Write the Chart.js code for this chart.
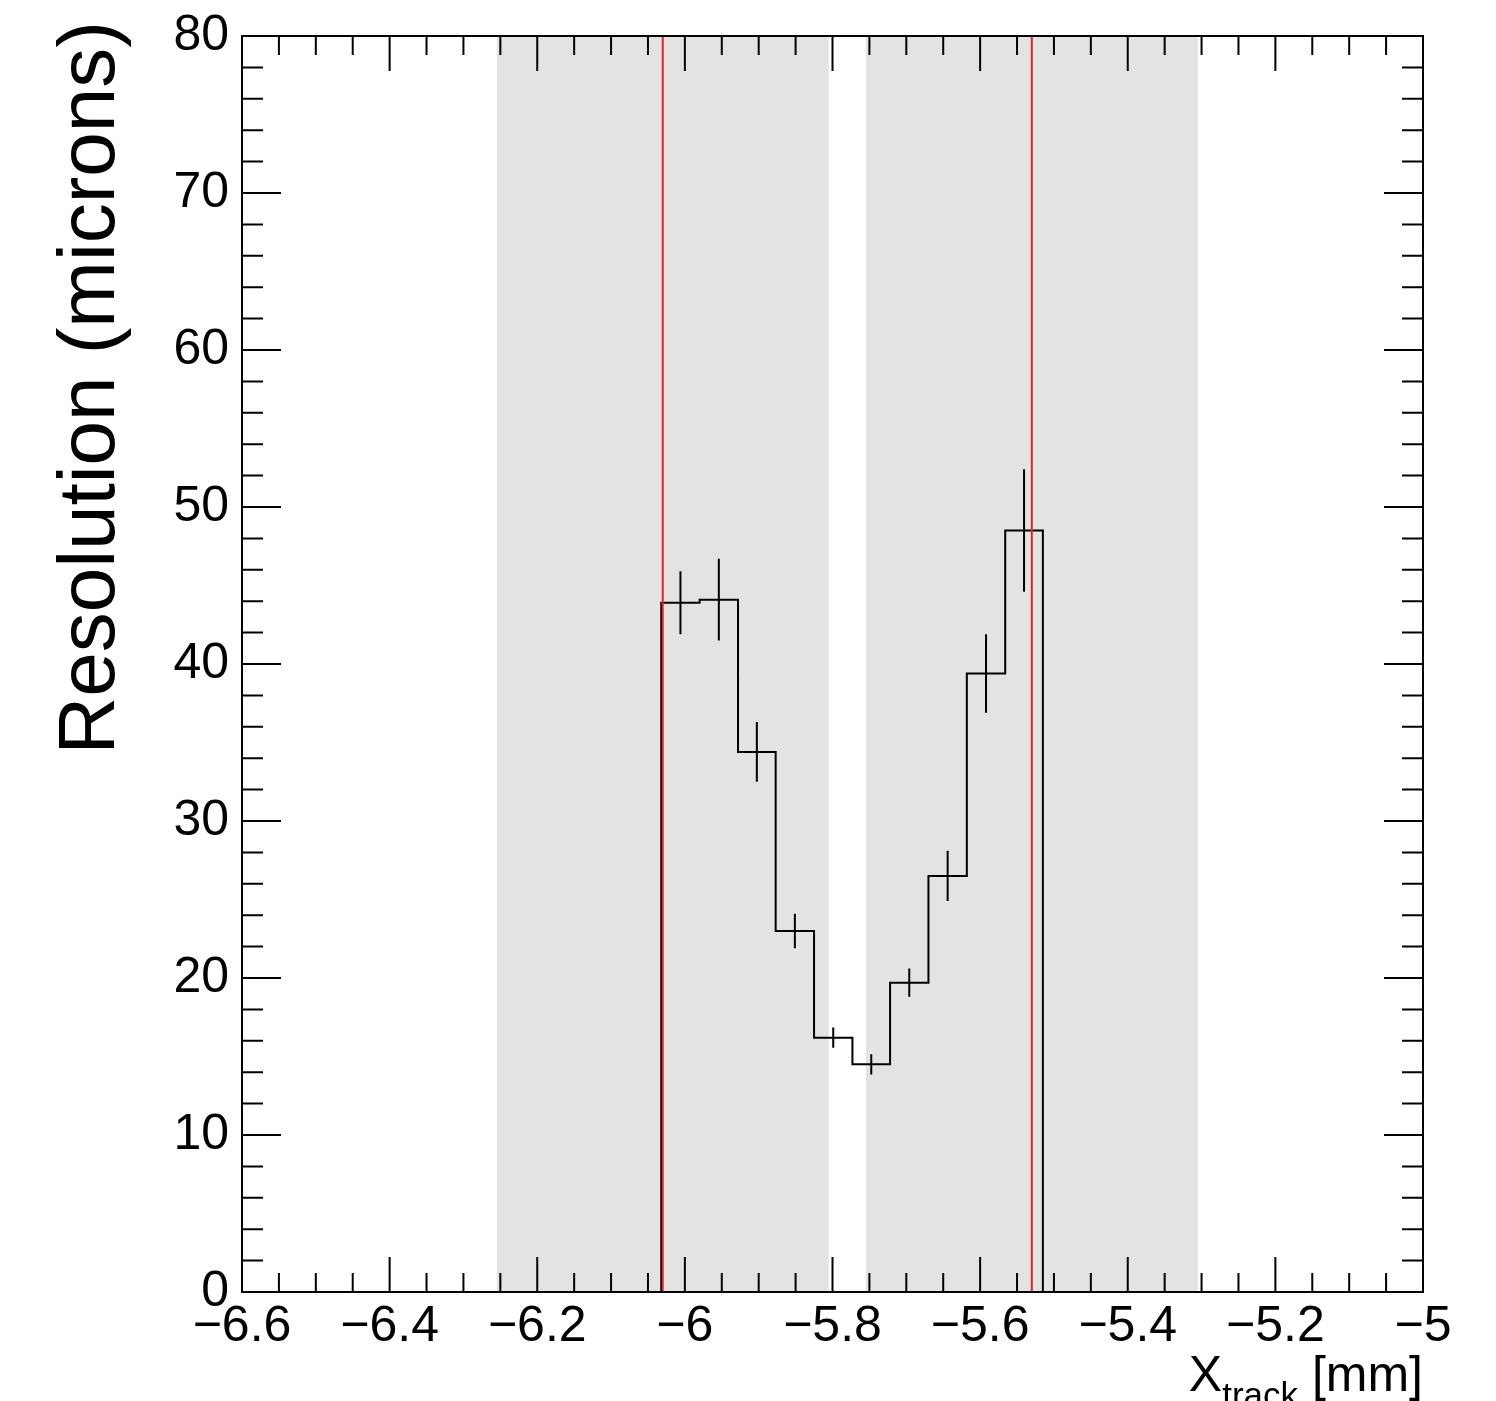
<!DOCTYPE html>
<html>
<head>
<meta charset="utf-8">
<script src="https://cdn.jsdelivr.net/npm/chart.js@4.4.1/dist/chart.umd.min.js"></script>
<style>
  html, body { margin: 0; padding: 0; background: #fff; }
  #wrap { width: 1496px; height: 1401px; }
</style>
</head>
<body>
<div id="wrap"><canvas id="resPlot" width="1496" height="1401"></canvas></div>
<script>
// bin edges along X_track [mm]
const binEdges = [-6.032, -5.980, -5.928, -5.877, -5.825, -5.773, -5.722, -5.670, -5.618, -5.566, -5.515];
const resolution = [43.9, 44.1, 34.4, 23.0, 16.2, 14.5, 19.7, 26.5, 39.4, 48.5];
const resolutionErr = [2.0, 2.6, 1.9, 1.1, 0.65, 0.65, 0.9, 1.6, 2.5, 3.9];

// shaded regions and the two red marker lines
const bandLo = [-6.255, -5.755];
const bandHi = [-5.805, -5.305];
const markerX = [-6.03, -5.53];

const xTicks = [-6.6, -6.4, -6.2, -6.0, -5.8, -5.6, -5.4, -5.2, -5.0];
const yTicks = [0, 10, 20, 30, 40, 50, 60, 70, 80];
const xMinorPerMajor = 4;
const yMinorPerMajor = 5;

const FONT = '"Liberation Sans", Arial, Helvetica, sans-serif';

// step outline of the histogram
const histPoints = [{ x: binEdges[0], y: 0 }];
resolution.forEach((v, i) => {
  histPoints.push({ x: binEdges[i], y: v }, { x: binEdges[i + 1], y: v });
});
histPoints.push({ x: binEdges[binEdges.length - 1], y: 0 });

// vertical error bars at bin centres, separated by gaps
const errPoints = [];
resolution.forEach((v, i) => {
  const c = (binEdges[i] + binEdges[i + 1]) / 2;
  errPoints.push({ x: c, y: v - resolutionErr[i] }, { x: c, y: v + resolutionErr[i] }, { x: c, y: null });
});

const markerPoints = [];
markerX.forEach(x => markerPoints.push({ x, y: 0 }, { x, y: 80 }, { x, y: null }));

const bandSets = bandLo.map((lo, i) => ({
  data: [{ x: lo, y: 80 }, { x: bandHi[i], y: 80 }],
  fill: 'origin',
  backgroundColor: '#e3e3e3',
  borderWidth: 0,
  pointRadius: 0,
  order: 5
}));

const frameTicks = {
  id: 'frameTicks',
  afterDatasetsDraw(chart) {
    const { ctx, chartArea: a, scales: { x, y } } = chart;
    ctx.save();
    ctx.strokeStyle = '#000';
    ctx.lineWidth = 2;
    ctx.beginPath();
    const vTick = (px, len) => {
      ctx.moveTo(px, a.bottom); ctx.lineTo(px, a.bottom - len);
      ctx.moveTo(px, a.top); ctx.lineTo(px, a.top + len);
    };
    const hTick = (py, len) => {
      ctx.moveTo(a.left, py); ctx.lineTo(a.left + len, py);
      ctx.moveTo(a.right, py); ctx.lineTo(a.right - len, py);
    };
    xTicks.forEach((t, i) => {
      vTick(x.getPixelForValue(t), 35);
      if (i < xTicks.length - 1) {
        const step = (xTicks[i + 1] - t) / xMinorPerMajor;
        for (let k = 1; k < xMinorPerMajor; k++) vTick(x.getPixelForValue(t + k * step), 19);
      }
    });
    yTicks.forEach((t, i) => {
      hTick(y.getPixelForValue(t), 39);
      if (i < yTicks.length - 1) {
        const step = (yTicks[i + 1] - t) / yMinorPerMajor;
        for (let k = 1; k < yMinorPerMajor; k++) hTick(y.getPixelForValue(t + k * step), 21);
      }
    });
    ctx.stroke();
    ctx.strokeRect(a.left, a.top, a.right - a.left, a.bottom - a.top);
    ctx.restore();
  },
  afterDraw(chart) {
    const { ctx, chartArea: a } = chart;
    ctx.save();
    ctx.fillStyle = '#000';
    ctx.textBaseline = 'alphabetic';

    // y title, rotated, reading upwards
    ctx.font = '80px ' + FONT;
    ctx.translate(a.left - 128, a.top - 15);
    ctx.rotate(-Math.PI / 2);
    ctx.textAlign = 'right';
    ctx.fillText('Resolution (microns)', 0, 0);
    ctx.setTransform(1, 0, 0, 1, 0, 0);

    // x title with subscript, right-aligned to the axis end
    ctx.textAlign = 'left';
    const big = '50px ' + FONT, small = '35px ' + FONT;
    ctx.font = big; const wX = ctx.measureText('X').width; const wMm = ctx.measureText(' [mm]').width;
    ctx.font = small; const wSub = ctx.measureText('track').width;
    let px = a.right - (wX + wSub + wMm);
    const base = a.bottom + 99;
    ctx.font = big; ctx.fillText('X', px, base); px += wX;
    ctx.font = small; ctx.fillText('track', px, base + 16); px += wSub;
    ctx.font = big; ctx.fillText(' [mm]', px, base);
    ctx.restore();
  }
};

new Chart(document.getElementById('resPlot'), {
  type: 'line',
  data: {
    datasets: [
      ...bandSets,
      {
        data: histPoints,
        borderColor: '#000',
        borderWidth: 2,
        pointRadius: 0,
        fill: false,
        order: 3
      },
      {
        data: errPoints,
        borderColor: '#000',
        borderWidth: 2,
        pointRadius: 0,
        fill: false,
        spanGaps: false,
        order: 2
      },
      {
        data: markerPoints,
        borderColor: '#e0222a',
        borderWidth: 2,
        pointRadius: 0,
        fill: false,
        spanGaps: false,
        order: 1
      }
    ]
  },
  options: {
    responsive: false,
    animation: false,
    devicePixelRatio: 1,
    layout: { padding: { top: 36, right: 73, left: 0, bottom: 0 } },
    plugins: { legend: { display: false }, tooltip: { enabled: false } },
    scales: {
      x: {
        type: 'linear',
        min: -6.6,
        max: -5,
        grid: { display: false },
        border: { display: false },
        afterBuildTicks: s => { s.ticks = xTicks.map(v => ({ value: v })); },
        afterFit: s => { s.height = 109; },
        ticks: {
          autoSkip: false,
          maxRotation: 0,
          padding: -3,
          color: '#000',
          font: { family: FONT, size: 50 },
          callback: v => {
            const r = Math.round(v * 10) / 10;
            return (r < 0 ? '\u2212' : '') + Math.abs(r).toString();
          }
        }
      },
      y: {
        min: 0,
        max: 80,
        grid: { display: false },
        border: { display: false },
        afterBuildTicks: s => { s.ticks = yTicks.map(v => ({ value: v })); },
        afterFit: s => { s.width = 242; },
        ticks: {
          padding: 5,
          color: '#000',
          font: { family: FONT, size: 50 },
          callback: v => String(v)
        }
      }
    }
  },
  plugins: [frameTicks]
});
</script>
</body>
</html>
